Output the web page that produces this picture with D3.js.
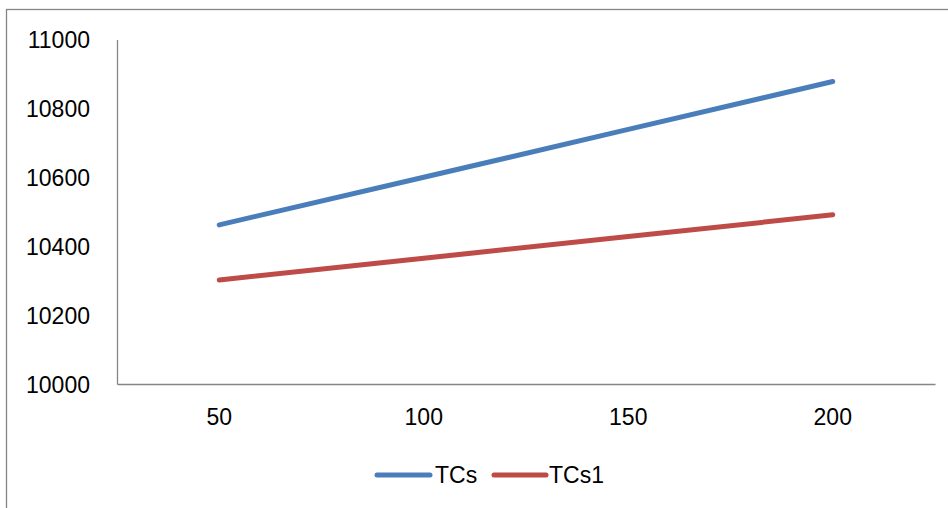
<!DOCTYPE html>
<html><head><meta charset="utf-8">
<script src="https://cdn.jsdelivr.net/npm/d3@7"></script>
<style>html,body{margin:0;padding:0;background:#fff;overflow:hidden}</style>
</head><body>
<svg id="chart" width="948" height="508"></svg>
<script>
const categories = ["50", "100", "150", "200"];
const tcs = [10462, 10600, 10739, 10878];
const tcs1 = [10302, 10365, 10428, 10491];
const yTicks = [10000, 10200, 10400, 10600, 10800, 11000];
const seriesNames = ["TCs", "TCs1"];
const colors = ["#4a7ebb", "#be4b48"];

const svg = d3.select("#chart");
const font = "'Liberation Sans', Arial, sans-serif";
svg.append("rect").attr("x", 6.5).attr("y", 9.5).attr("width", 1000).attr("height", 600)
  .attr("fill", "none").attr("stroke", "#868686").attr("stroke-width", 1.3);

const plotLeft = 117, plotRight = 935, plotTop = 39.5, plotBottom = 384;
const x = d3.scaleBand().domain(categories).range([plotLeft, plotRight]);
const y = d3.scaleLinear().domain([10000, 11000]).range([plotBottom, plotTop]);

const yAxis = svg.append("g").attr("transform", `translate(${plotLeft},0)`)
  .call(d3.axisLeft(y).tickValues(yTicks).tickSize(0).tickPadding(27).tickFormat(d3.format("d")));
yAxis.select(".domain").attr("stroke", "#868686").attr("stroke-width", 1.3);
yAxis.selectAll("text").attr("font-family", font).attr("font-size", 23).attr("fill", "#000").attr("dy", "0.35em");

const xAxis = svg.append("g").attr("transform", `translate(0,${plotBottom})`)
  .call(d3.axisBottom(x).tickSize(0).tickPadding(25));
xAxis.select(".domain").attr("stroke", "#868686").attr("stroke-width", 1.3);
xAxis.selectAll("text").attr("font-family", font).attr("font-size", 23).attr("fill", "#000");

const line = d3.line().x((d, i) => x(categories[i]) + x.bandwidth() / 2).y(d => y(d));
[tcs, tcs1].forEach((s, k) => {
  svg.append("path").datum(s).attr("d", line).attr("fill", "none")
    .attr("stroke", colors[k]).attr("stroke-width", 5).attr("stroke-linecap", "round");
});

const legend = [{x1: 377, x2: 430, tx: 435}, {x1: 494, x2: 546, tx: 549}];
seriesNames.forEach((n, k) => {
  svg.append("line").attr("x1", legend[k].x1).attr("x2", legend[k].x2).attr("y1", 475).attr("y2", 475)
    .attr("stroke", colors[k]).attr("stroke-width", 5).attr("stroke-linecap", "round");
  svg.append("text").attr("x", legend[k].tx).attr("y", 475).attr("dy", "0.35em")
    .attr("font-family", font).attr("font-size", 23).attr("fill", "#000").text(n);
});
</script>
</body></html>
